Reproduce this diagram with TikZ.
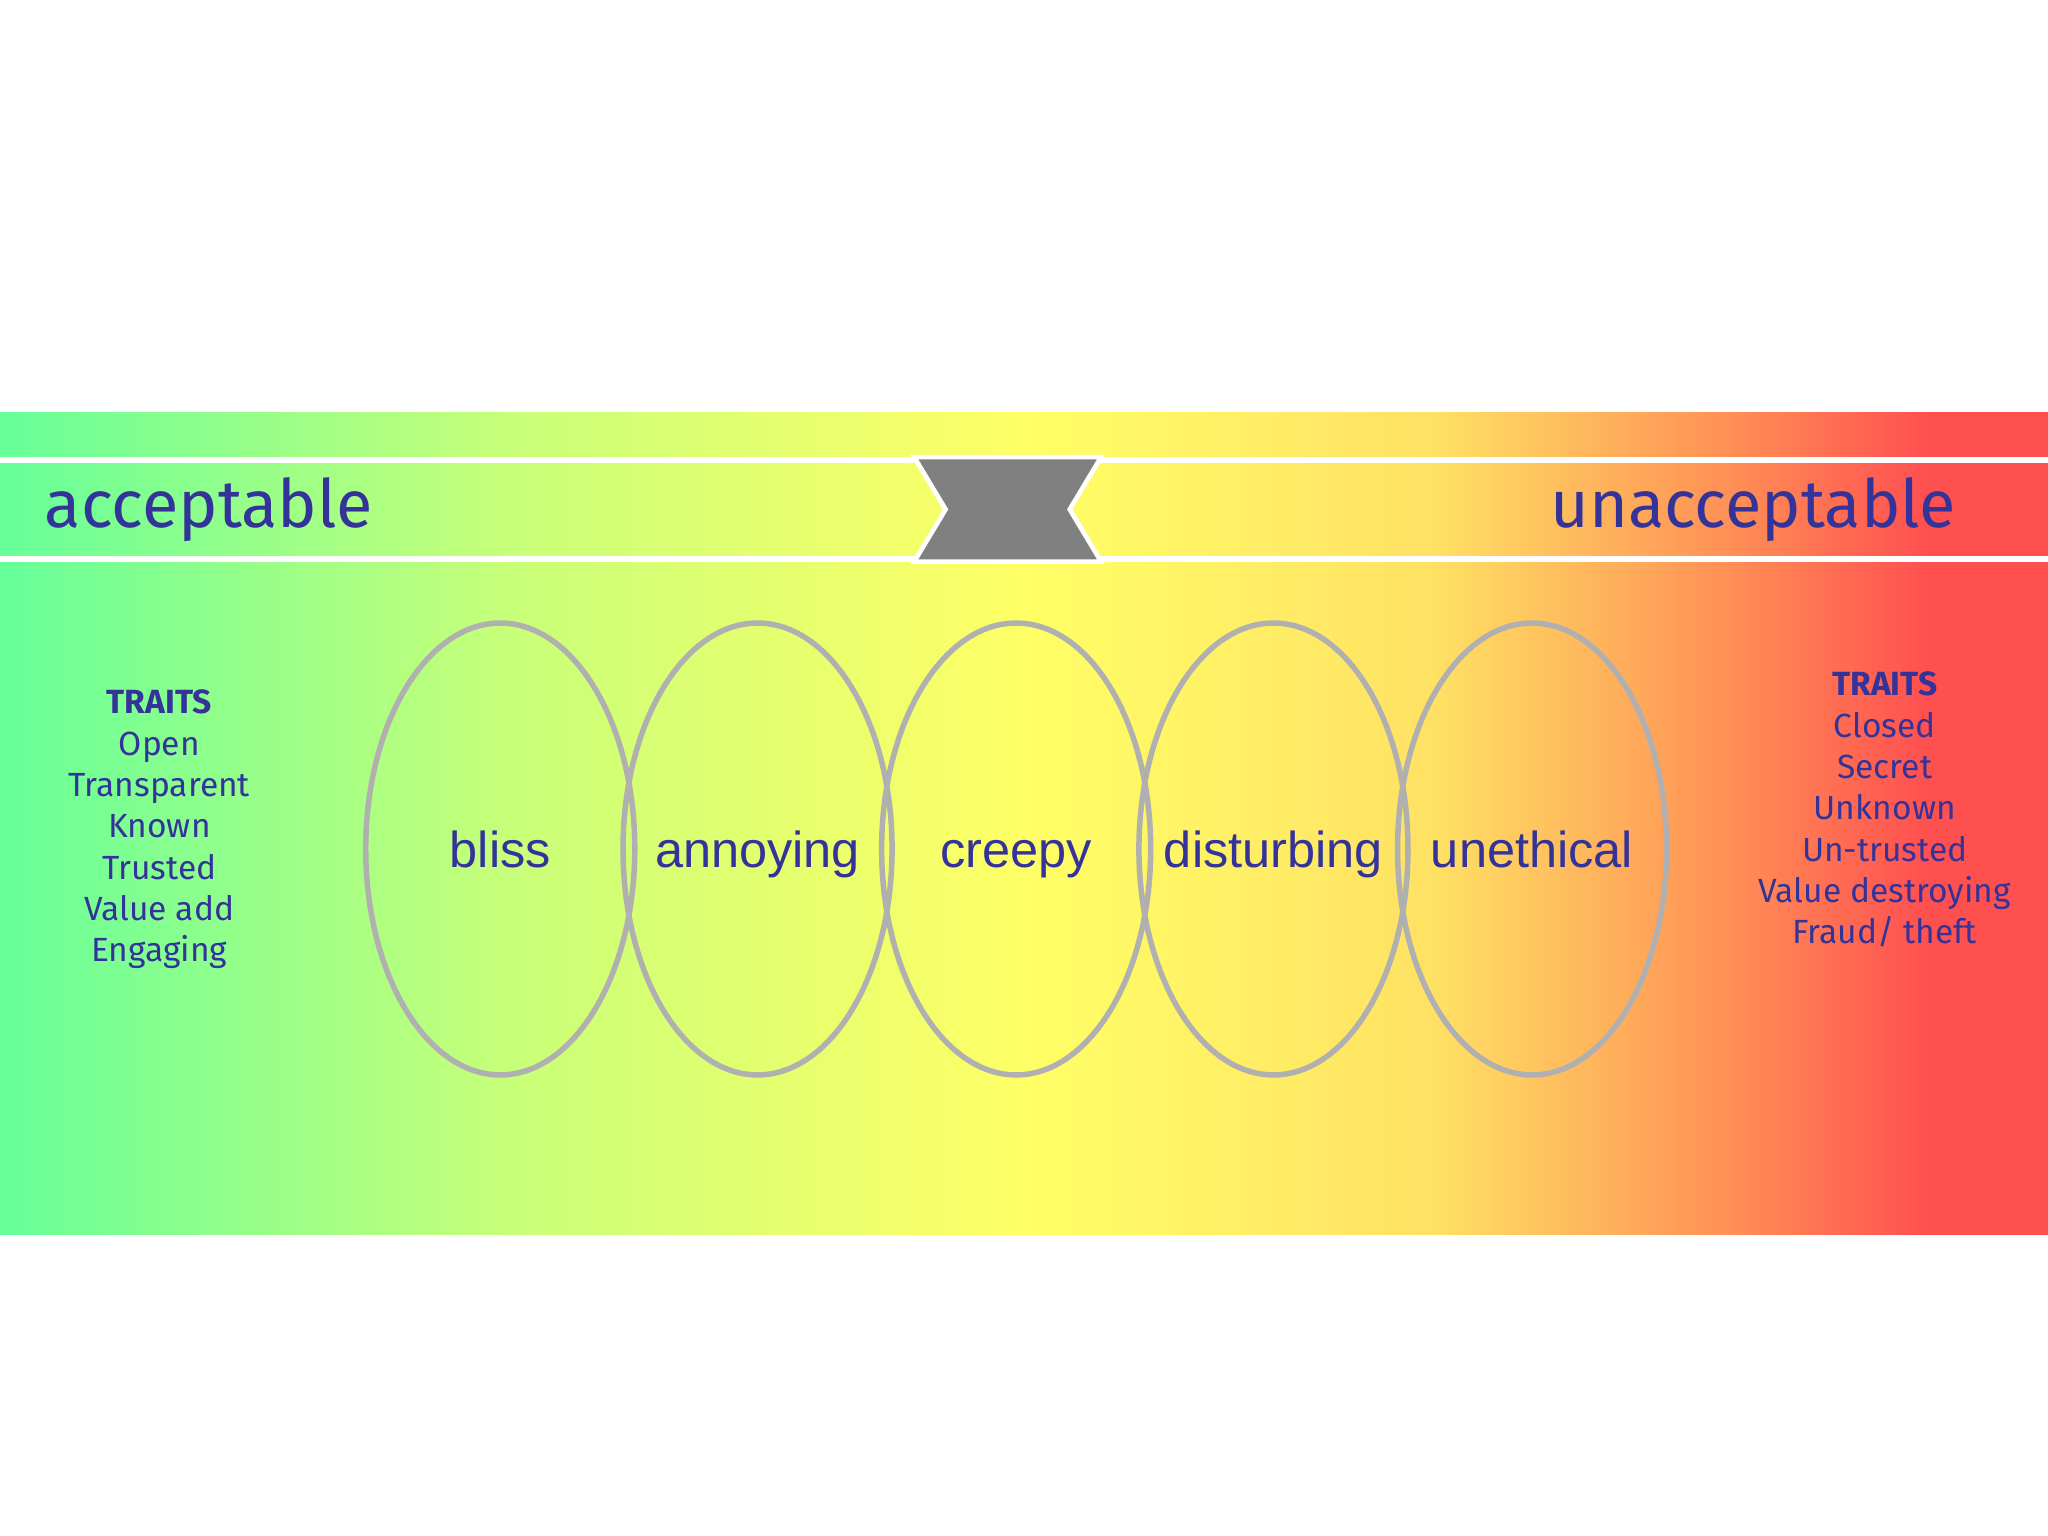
\documentclass[tikz,border=0pt]{standalone}
\usepackage{fontspec}
\setmainfont{Liberation Sans}
\newfontfamily\comic{Fira Sans}
\definecolor{txt}{HTML}{333399}
\definecolor{ell}{HTML}{B0B0B0}
\pgfdeclarehorizontalshading{band}{100bp}{
 color(0bp)=({rgb,255:red,102;green,255;blue,153});
 color(25bp)=({rgb,255:red,102;green,255;blue,153});
 color(37.5bp)=({rgb,255:red,200;green,255;blue,120});
 color(50bp)=({rgb,255:red,255;green,255;blue,102});
 color(60bp)=({rgb,255:red,255;green,225;blue,100});
 color(67.5bp)=({rgb,255:red,255;green,140;blue,85});
 color(72bp)=({rgb,255:red,255;green,80;blue,80});
 color(100bp)=({rgb,255:red,255;green,80;blue,80})}
\begin{document}
\begin{tikzpicture}[x=0.01cm,y=-0.01cm,
 lab/.style={text=txt,font=\fontsize{11}{13}\selectfont,anchor=base},
 big/.style={text=txt,font=\comic\fontsize{14.5}{18}\selectfont,anchor=base},
 trait/.style={text=txt,font=\comic\fontsize{7.3}{9}\selectfont,align=center}]
\useasboundingbox (0,0) rectangle (1568,1176);
\fill[white] (0,0) rectangle (1568,1176);
\shade[shading=band] (0,316) rectangle (1568,945);
\draw[white,line width=1.4pt] (0,352) -- (1568,352) (0,428) -- (1568,428);
\fill[fill={rgb,255:red,128;green,128;blue,128},draw=white,line width=1pt]
 (700,350) -- (843,350) -- (819,390) -- (843,430) -- (700,430) -- (724,390) -- cycle;
\node[big,anchor=base west] (acc) at (22,404) {acceptable};
\node[big,anchor=base east] (unacc) at (1510,404) {unacceptable};
\foreach \x/\n/\t in {383/e1/bliss,580/e2/annoying,778/e3/creepy,975/e4/disturbing,1173/e5/unethical}{
 \draw[ell,line width=1.2pt] (\x,650) ellipse [x radius=103,y radius=173];
 \node[lab] (\n) at (\x,664) {\t};
}
\node[trait] (tl) at (122,635) {\textbf{TRAITS}\\Open\\Transparent\\Known\\Trusted\\Value add\\Engaging};
\node[trait] (tr) at (1443,620) {\textbf{TRAITS}\\Closed\\Secret\\Unknown\\Un-trusted\\Value destroying\\Fraud/ theft};
\end{tikzpicture}
\end{document}
